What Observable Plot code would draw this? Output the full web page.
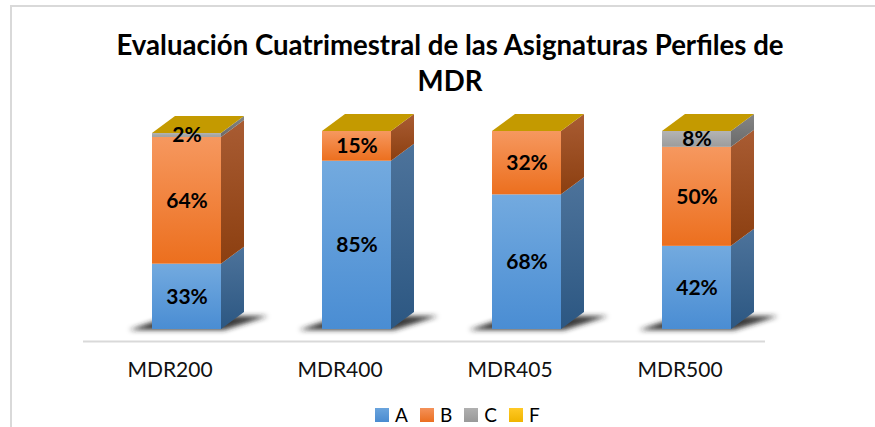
<!DOCTYPE html>
<html><head><meta charset="utf-8">
<script src="https://cdn.jsdelivr.net/npm/d3@7"></script>
<script src="https://cdn.jsdelivr.net/npm/@observablehq/plot@0.6"></script>
<style>
body{margin:0;background:#fff;}
#wrap{position:relative;width:875px;height:427px;overflow:hidden;font-family:Lato,"Open Sans",sans-serif;color:#000;}
#frameTop{position:absolute;left:10px;top:5px;right:0;height:2px;background:#d9d9d9;}
#frameLeft{position:absolute;left:10px;top:5px;bottom:0;width:2px;background:#d9d9d9;}
#title{position:absolute;left:0;width:900px;top:27px;text-align:center;font-weight:bold;font-size:27.6px;line-height:36px;}
#chart{position:absolute;left:0;top:0;}
#legend{position:absolute;top:403px;left:375px;display:flex;align-items:center;font-size:19px;}
.item{display:flex;align-items:center;margin-right:12px;}
.sw{width:14px;height:14px;margin-right:6px;}
</style></head>
<body><div id="wrap"><div id="frameTop"></div><div id="frameLeft"></div><div id="chart"></div><div id="title"></div><div id="legend"></div></div>
<script>
const titleLines = ["Evaluación Cuatrimestral de las Asignaturas Perfiles de", "MDR"];
const categories = ["MDR200", "MDR400", "MDR405", "MDR500"];
const series = ["A", "B", "C", "F"];
const valuesA = [33, 85, 68, 42];
const valuesB = [64, 15, 32, 50];
const valuesC = [2, 0, 0, 8];
const valuesF = [0, 0, 0, 0];

const seriesValues = {A: valuesA, B: valuesB, C: valuesC, F: valuesF};
const rows = [];
categories.forEach((cat, i) => series.forEach(s => rows.push({cat, series: s, value: seriesValues[s][i]})));

const frontColors = {A: ["#73aadf", "#4a8dd3"], B: ["#f6985f", "#ec6f1e"], C: ["#b4b4b4", "#9c9c9c"], F: ["#ffcc33", "#e6ad00"]};
const sideColors = {A: ["#4d739b", "#2c5782"], B: ["#a95c33", "#8c3f10"], C: ["#858585", "#6a6a6a"], F: ["#b08a00", "#9a7800"]};
const topColors = {A: "#7fb3e3", B: "#c45f1c", C: "#8c8c8c", F: "#c49a00"};
const legendColors = {A: ["#6aa4dd", "#4a8bd0"], B: ["#f4925a", "#eb6f20"], C: ["#b0b0b0", "#999999"], F: ["#ffc926", "#f0b400"]};

document.getElementById("title").innerHTML = titleLines.join("<br>");

const plot = Plot.plot({
  width: 875, height: 427,
  marginTop: 0, marginLeft: 83, marginRight: 110, marginBottom: 98,
  style: {fontFamily: "Lato, 'Open Sans', sans-serif", background: "transparent", overflow: "visible"},
  x: {domain: categories, range: [102, 782], paddingInner: 0.594, paddingOuter: 0.297, axis: null},
  y: {domain: [0, 100], range: [329, 131], axis: null},
  color: {type: "identity"},
  marks: [
    Plot.ruleY([0], {dy: 12, stroke: "#d9d9d9", strokeWidth: 2}),
    Plot.barY(rows, {x: "cat", y: "value", z: "series", fill: d => `url(#front-${d.series})`}),
    Plot.text(rows, Plot.stackY({x: "cat", y: "value", z: "series", text: d => d.value > 0 ? d.value + "%" : "", fontWeight: "bold", fontSize: 21, fill: "#000"})),
    Plot.axisX({tickSize: 0, tickPadding: 33, fontSize: 21, dx: -17, fill: "#111", label: null})
  ]
});
document.getElementById("chart").appendChild(plot);

const svg = d3.select(plot);
const defs = svg.insert("defs", ":first-child");
function grad(id, c) {
  const g = defs.append("linearGradient").attr("id", id).attr("x1", 0).attr("y1", 0).attr("x2", 0).attr("y2", 1);
  g.append("stop").attr("offset", "0%").attr("stop-color", c[0]);
  g.append("stop").attr("offset", "100%").attr("stop-color", c[1]);
}
series.forEach(s => { grad("front-" + s, frontColors[s]); grad("side-" + s, sideColors[s]); });
const blur = defs.append("filter").attr("id", "shadowBlur").attr("x", "-50%").attr("y", "-50%").attr("width", "200%").attr("height", "200%");
blur.append("feGaussianBlur").attr("stdDeviation", 2.6);

const X = plot.scale("x"), Y = plot.scale("y");
const bw = X.bandwidth;
const DX = 23, DY = 17;
const pts = p => p.map(q => q.join(",")).join(" ");

const shadowG = svg.insert("g", "defs + *").attr("filter", "url(#shadowBlur)");
const faces = svg.append("g");
categories.forEach((cat, i) => {
  const xl = X.apply(cat), xr = xl + bw;
  const y0 = Y.apply(0);
  shadowG.append("polygon")
    .attr("points", pts([[xl - 23, y0 + 1], [xr + 3, y0 + 1], [xr + DX + 24, y0 - DY + 4], [xl + DX - 5, y0 - DY + 4]]))
    .attr("fill", "#222").attr("opacity", 0.9);
  let cum = 0;
  series.forEach(s => {
    const v = seriesValues[s][i];
    if (v > 0) {
      const ya = Y.apply(cum), yb = Y.apply(cum + v);
      faces.append("polygon")
        .attr("points", pts([[xr, ya], [xr + DX, ya - DY], [xr + DX, yb - DY], [xr, yb]]))
        .attr("fill", `url(#side-${s})`);
    }
    cum += v;
  });
  const yt = Y.apply(cum);
  faces.append("polygon")
    .attr("points", pts([[xl, yt], [xr, yt], [xr + DX, yt - DY], [xl + DX, yt - DY]]))
    .attr("fill", topColors[series[series.length - 1]]);
});
svg.selectAll("g[aria-label='text']").raise();

const legend = document.getElementById("legend");
series.forEach(s => {
  const item = document.createElement("div");
  item.className = "item";
  item.innerHTML = `<div class="sw" style="background:linear-gradient(${legendColors[s][0]},${legendColors[s][1]})"></div><span>${s}</span>`;
  legend.appendChild(item);
});
</script>
</body></html>
